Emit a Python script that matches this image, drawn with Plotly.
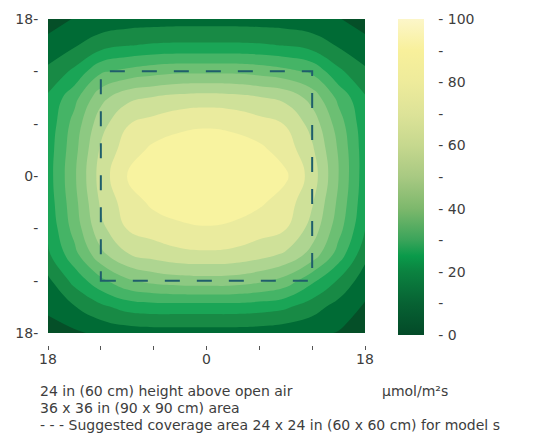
import plotly.graph_objects as go

# ---- data (PPFD, µmol/m²s) ----
x_in = [-18, -15, -12, -9, -6, -3, 0, 3, 6, 9, 12, 15, 18]
y_in = [-18, -15, -12, -9, -6, -3, 0, 3, 6, 9, 12, 15, 18]

ppfd_y18  = [5, 9.5, 12, 13, 13.5, 14, 14, 14, 13.5, 13, 12, 9.5, 5]
ppfd_y15  = [12, 17, 23, 26.5, 28, 28.5, 28.5, 28.5, 28, 26.5, 23, 17, 12]
ppfd_y12  = [20, 29, 43.5, 47.5, 50.5, 52, 52, 52, 50.5, 47.5, 43, 29, 19.5]
ppfd_y9   = [28.5, 42, 60, 69.5, 72.5, 75, 76, 75, 72.5, 69.5, 59.5, 42.5, 28]
ppfd_y6   = [30, 48.5, 68.5, 80.5, 84.5, 88, 89, 88, 84.5, 80.5, 68.5, 49.5, 30]
ppfd_y3   = [31.5, 51, 73.5, 85.5, 92, 94, 94.5, 94, 92, 86, 73.5, 53, 31]
ppfd_y0   = [32, 52.5, 76, 90.5, 94.5, 95, 95, 95, 94.5, 91.5, 77, 54, 31]
ppfd_ym3  = [31, 51, 73.5, 85.5, 92, 94, 94.5, 94, 91.5, 86, 73, 52, 30]
ppfd_ym6  = [29, 48.5, 69.5, 81.5, 85.5, 88.5, 89.5, 88.5, 85, 81.5, 68.5, 48.5, 27.5]
ppfd_ym9  = [25.5, 42, 60.5, 71.5, 75.5, 78.5, 79.3, 78.5, 75.5, 70.5, 59.5, 41, 21]
ppfd_ym12 = [16, 30, 42.5, 52.5, 57, 59, 59.4, 59, 56, 50.5, 38, 26, 13]
ppfd_ym15 = [11.5, 17.5, 25, 30.5, 32, 32, 32, 32, 31, 28.5, 22, 14.5, 8]
ppfd_ym18 = [4, 7.5, 11, 13, 14, 14, 14, 14, 13.5, 12, 11, 8.5, 3]

coverage_x = [-12, 12]
coverage_y = [-12, 12]

x_tickvals = [-18, -12, -6, 0, 6, 12, 18]
x_ticktext = ["18", "", "", "0", "", "", "18"]
y_tickvals = [-18, -12, -6, 0, 6, 12, 18]
y_ticktext = ["18-", "-", "-", "0-", "-", "-", "18-"]
cb_tickvals = [0, 10, 20, 30, 40, 50, 60, 70, 80, 90, 100]
cb_ticktext = ["- 0", "-", "- 20", "-", "- 40", "-", "- 60", "-", "- 80", "-", "- 100"]

caption_lines = [
    "24 in (60 cm) height above open air",
    "36 x 36 in (90 x 90 cm) area",
    "- - - Suggested coverage area 24 x 24 in (60 x 60 cm) for model s",
]
unit_text = "µmol/m²s"

z = [ppfd_ym18, ppfd_ym15, ppfd_ym12, ppfd_ym9, ppfd_ym6, ppfd_ym3, ppfd_y0,
     ppfd_y3, ppfd_y6, ppfd_y9, ppfd_y12, ppfd_y15, ppfd_y18]

# ---- styling ----
FONT = "DejaVu Sans"
TXT = "#3d3d3d"

band_scale = [
    [0.0, "#054f28"], [0.1, "#006b35"], [0.2, "#188a45"], [0.3, "#1aa556"],
    [0.4, "#45b466"], [0.5, "#6cbf73"], [0.6, "#8dc982"], [0.7, "#aed591"],
    [0.8, "#cfe199"], [0.9, "#eaeb9e"], [1.0, "#f8f3a0"],
]
bar_scale = [
    [0.0, "#034a28"], [0.1, "#076233"], [0.2, "#0b8240"], [0.25, "#0a9a4a"],
    [0.3, "#3aa45a"], [0.4, "#7db86c"], [0.5, "#a8c982"], [0.6, "#c6d88e"],
    [0.7, "#dde398"], [0.8, "#eeeb9b"], [0.9, "#f8f09b"], [1.0, "#fcf6c9"],
]

# page body adds an 8px offset, so figure coords = window coords - 8
OFF = 8
W, H = 547 - OFF, 434 - OFF
PAPER_BOTTOM = 349          # window y of the bottom of the paper area (label axis)
ML, MR, MT, MB = 48 - OFF, W - (365 - OFF), 19 - OFF, H - (PAPER_BOTTOM - OFF)
plot_w = W - ML - MR
plot_h = H - MT - MB

def px_x(wx):
    return (wx - OFF - ML) / plot_w

def px_y(wy):
    return (H - MB - (wy - OFF)) / plot_h

fig = go.Figure()
fig.add_trace(go.Contour(
    x=x_in, y=y_in, z=z,
    autocontour=False,
    contours=dict(start=9, end=90, size=9, coloring="fill", showlines=False),
    line=dict(width=0, smoothing=1.3),
    colorscale=band_scale,
    showscale=False,
    hoverinfo="skip",
))
fig.add_trace(go.Scatter(
    x=[0], y=[0], xaxis="x2", mode="markers", hoverinfo="skip", showlegend=False,
    marker=dict(size=1, opacity=0, color=[50], colorscale=bar_scale,
                cmin=0, cmax=100, showscale=True,
                colorbar=dict(
                    x=px_x(398), xanchor="left", xpad=0,
                    y=1, yanchor="top", ypad=0,
                    len=316, lenmode="pixels", thickness=26,
                    outlinewidth=0,
                    tickmode="array", tickvals=cb_tickvals, ticktext=cb_ticktext,
                    ticks="outside", ticklen=12, tickcolor="rgba(0,0,0,0)",
                    tickfont=dict(family=FONT, size=14, color=TXT),
                )),
))

fig.add_shape(type="rect", x0=coverage_x[0], x1=coverage_x[1],
              y0=coverage_y[0], y1=coverage_y[1],
              line=dict(color="#1f5e6b", width=2, dash="15px,17px"),
              fillcolor="rgba(0,0,0,0)")

for i, line in enumerate(caption_lines):
    fig.add_annotation(
        text=line, xref="paper", yref="paper",
        x=px_x(38), y=px_y(391 + 17 * i), xanchor="left", yanchor="middle",
        align="left", showarrow=False, font=dict(family=FONT, size=14, color=TXT))
fig.add_annotation(
    text=unit_text, xref="paper", yref="paper",
    x=px_x(380), y=px_y(391), xanchor="left", yanchor="middle",
    align="left", showarrow=False, font=dict(family=FONT, size=14, color=TXT))

dom0 = (PAPER_BOTTOM - 333) / plot_h
fig.update_layout(
    width=W, height=H,
    margin=dict(l=ML, r=MR, t=MT, b=MB, pad=0, autoexpand=False),
    paper_bgcolor="white", plot_bgcolor="white",
    showlegend=False,
    xaxis=dict(range=[-18, 18], tickmode="array", tickvals=x_tickvals,
               ticks="outside", ticklen=4, tickcolor="#555", tickwidth=1,
               showticklabels=False,
               showgrid=False, zeroline=False, showline=False,
               anchor="free", position=(PAPER_BOTTOM - 345) / plot_h, automargin=False),
    xaxis2=dict(range=[-18, 18], overlaying="x", tickmode="array",
                tickvals=x_tickvals, ticktext=x_ticktext, ticks="",
                showgrid=False, zeroline=False, showline=False,
                anchor="free", position=0, automargin=False,
                tickfont=dict(family=FONT, size=14, color=TXT)),
    yaxis=dict(range=[-18, 18], domain=[dom0, 1], tickmode="array",
               tickvals=y_tickvals, ticktext=y_ticktext,
               ticks="outside", ticklen=6, tickcolor="rgba(0,0,0,0)",
               showgrid=False, zeroline=False, showline=False, automargin=False,
               tickfont=dict(family=FONT, size=14, color=TXT)),
)

fig.write_html("out.html")
